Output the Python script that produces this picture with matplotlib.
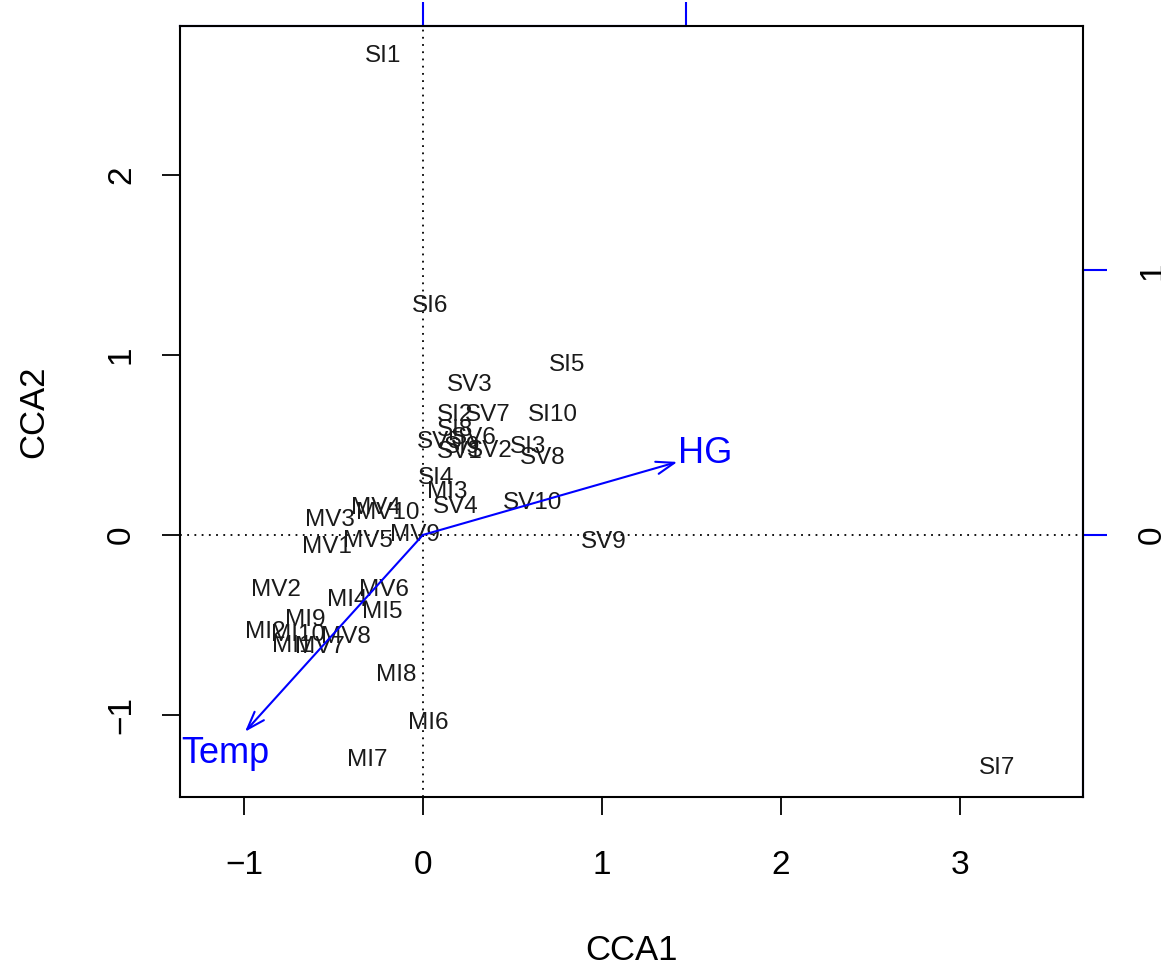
import matplotlib
matplotlib.use('Agg')
from matplotlib import pyplot as plt

plt.rcParams['font.family'] = ['Liberation Sans', 'DejaVu Sans']
plt.rcParams['axes.unicode_minus'] = True

# site scores (CCA1, CCA2)
sites = ['SI1', 'SI2', 'SI3', 'SI4', 'SI5', 'SI6', 'SI7', 'SI8', 'SI9', 'SI10',
         'SV1', 'SV2', 'SV3', 'SV4', 'SV5', 'SV6', 'SV7', 'SV8', 'SV9', 'SV10',
         'MI1', 'MI2', 'MI3', 'MI4', 'MI5', 'MI6', 'MI7', 'MI8', 'MI9', 'MI10',
         'MV1', 'MV2', 'MV3', 'MV4', 'MV5', 'MV6', 'MV7', 'MV8', 'MV9', 'MV10']
cca1 = [-0.223, 0.179, 0.587, 0.073, 0.804, 0.039, 3.207, 0.179, 0.218, 0.726,
        0.207, 0.374, 0.263, 0.184, 0.095, 0.285, 0.363, 0.670, 1.011, 0.615,
        -0.732, -0.883, 0.134, -0.425, -0.229, 0.028, -0.313, -0.151, -0.659, -0.698,
        -0.536, -0.821, -0.520, -0.263, -0.307, -0.218, -0.575, -0.430, -0.045, -0.196]
cca2 = [2.661, 0.667, 0.489, 0.317, 0.944, 1.272, -1.294, 0.583, 0.489, 0.667,
        0.461, 0.467, 0.833, 0.156, 0.517, 0.539, 0.667, 0.428, -0.039, 0.178,
        -0.617, -0.539, 0.239, -0.361, -0.428, -1.044, -1.250, -0.778, -0.472, -0.556,
        -0.067, -0.306, 0.083, 0.150, -0.033, -0.306, -0.622, -0.567, 0.000, 0.122]

# biplot arrows (environmental variables)
env = ['HG', 'Temp']
env_x = [0.967, -0.676]
env_y = [0.276, -0.744]
mul = 1.47

blue = '#0000FF'

fig = plt.figure(figsize=(11.61, 9.68), dpi=100)
ax = fig.add_axes([0.155, 0.1767, 0.7778, 0.7964])
xlim = (-1.357, 3.687)
ylim = (-1.456, 2.828)
ax.set_xlim(xlim)
ax.set_ylim(ylim)

ax.axhline(0, color='black', ls=(0, (1, 3)), lw=1.3)
ax.axvline(0, color='black', ls=(0, (1, 3)), lw=1.3)

for s, x, y in zip(sites, cca1, cca2):
    ax.text(x, y, s, ha='center', va='center', fontsize=17.5, color='#1a1a1a')

for name, x, y in zip(env, env_x, env_y):
    ax.annotate('', xy=(x * mul, y * mul), xytext=(0, 0),
                arrowprops=dict(arrowstyle='->,head_length=1.3,head_width=0.45',
                                color=blue, lw=1.5, shrinkA=0, shrinkB=0))
    ax.text(x * mul * 1.11, y * mul * 1.11, name, ha='center', va='center',
            fontsize=26, color=blue)

ax.set_xticks([-1, 0, 1, 2, 3])
ax.set_yticks([-1, 0, 1, 2])
ax.set_xticklabels(['\u22121', '0', '1', '2', '3'])
ax.set_yticklabels(['\u22121', '0', '1', '2'], rotation=90, va='center')
ax.tick_params(axis='both', length=13, width=1.3, labelsize=24, direction='out')
ax.tick_params(axis='x', pad=25)
ax.tick_params(axis='y', pad=18)
for sp in ax.spines.values():
    sp.set_linewidth(1.5)
ax.set_xlabel('CCA1', fontsize=25, labelpad=38)
ax.set_ylabel('CCA2', fontsize=25, labelpad=40)

# secondary axes for arrow scale
top = ax.secondary_xaxis('top', functions=(lambda v: v / mul, lambda v: v * mul))
top.set_xticks([0, 1])
top.tick_params(axis='x', length=17, width=1.5, color=blue, labeltop=False)
top.spines['top'].set_color(blue)
top.spines['top'].set_linewidth(1.5)
top.spines['top'].set_bounds(xlim[0] / mul, 1)

right = ax.secondary_yaxis('right', functions=(lambda v: v / mul, lambda v: v * mul))
right.set_yticks([0, 1])
right.set_yticklabels(['0', '1'], rotation=90, va='center')
right.tick_params(axis='y', length=17, width=1.5, color=blue, labelsize=24, pad=22)
right.spines['right'].set_color(blue)
right.spines['right'].set_linewidth(1.5)
right.spines['right'].set_bounds(ylim[0] / mul, 1)

fig.savefig('out.png', dpi=100)
